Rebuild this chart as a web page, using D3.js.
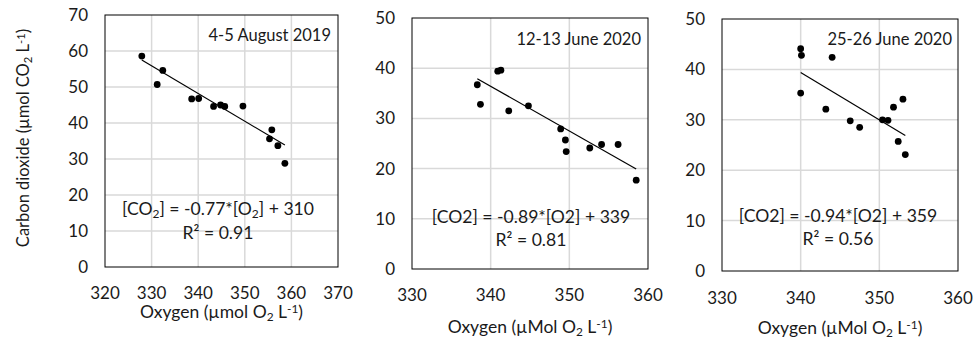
<!DOCTYPE html>
<html>
<head>
<meta charset="utf-8">
<script src="https://cdn.jsdelivr.net/npm/d3@7"></script>
<style>
  body { margin: 0; background: #fff; }
  svg { display: block; font-family: Lato, "Open Sans", sans-serif; }
</style>
</head>
<body>
<svg id="chart" width="976" height="339"></svg>
<script>
// Panel 1: 4-5 August 2019
const o2Aug = [327.9, 331.2, 332.4, 338.6, 340.1, 343.3, 344.8, 345.7, 349.6, 355.8, 355.3, 357.1, 358.6];
const co2Aug = [58.6, 50.7, 54.6, 46.7, 46.8, 44.6, 45.0, 44.6, 44.7, 38.1, 35.6, 33.7, 28.8];

// Panel 2: 12-13 June 2020
const o2Jun12 = [338.3, 338.7, 340.9, 341.3, 342.3, 344.8, 348.9, 349.5, 349.6, 352.6, 354.1, 356.2, 358.5];
const co2Jun12 = [36.7, 32.8, 39.4, 39.6, 31.5, 32.5, 27.9, 25.7, 23.4, 24.1, 24.8, 24.8, 17.7];

// Panel 3: 25-26 June 2020
const o2Jun25 = [340.0, 340.1, 344.0, 340.0, 343.2, 346.3, 347.5, 350.4, 351.1, 351.8, 353.0, 352.4, 353.3];
const co2Jun25 = [44.1, 42.8, 42.4, 35.3, 32.1, 29.8, 28.5, 30.0, 29.9, 32.5, 34.1, 25.7, 23.1];

// fits: slope, intercept, R2
const fitSlopes = [-0.77, -0.89, -0.94];
const fitIntercepts = [310, 339, 359];
const fitR2 = ["0.91", "0.81", "0.56"];

const panelTitles = ["4-5 August 2019", "12-13 June 2020", "25-26 June 2020"];
const xTicks1 = [320, 330, 340, 350, 360, 370];
const xTicks23 = [330, 340, 350, 360];
const yTicks1 = [0, 10, 20, 30, 40, 50, 60, 70];
const yTicks23 = [0, 10, 20, 30, 40, 50];

const svg = d3.select("#chart");
const textColor = "#1a1a1a";
const gridColor = "#d9d9d9";

const panels = [
  { o2: o2Aug, co2: co2Aug, xDom: [320, 370], yDom: [0, 70], xTicks: xTicks1, yTicks: yTicks1,
    box: { x0: 105, x1: 338, y0: 15, y1: 267 }, subEq: true, unit: "µmol",
    eqPos: [218, 215], r2Pos: [218, 239], titlePos: [331, 41], xTitleY: 318, xTickY: 299 },
  { o2: o2Jun12, co2: co2Jun12, xDom: [330, 360], yDom: [0, 50], xTicks: xTicks23, yTicks: yTicks23,
    box: { x0: 412, x1: 648, y0: 18, y1: 269 }, subEq: false, unit: "µMol",
    eqPos: [531, 223], r2Pos: [531, 246], titlePos: [641, 45], xTitleY: 333, xTickY: 301 },
  { o2: o2Jun25, co2: co2Jun25, xDom: [330, 360], yDom: [0, 50], xTicks: xTicks23, yTicks: yTicks23,
    box: { x0: 722, x1: 958, y0: 19, y1: 271 }, subEq: false, unit: "µMol",
    eqPos: [838, 222], r2Pos: [838, 245], titlePos: [952, 45], xTitleY: 334, xTickY: 304 }
];

function addSub(sel, txt, kind) {
  sel.append("tspan")
    .attr("font-size", "0.68em")
    .attr("baseline-shift", kind === "sub" ? "-25%" : "40%")
    .text(txt);
}

panels.forEach((p, i) => {
  const b = p.box;
  const x = d3.scaleLinear().domain(p.xDom).range([b.x0, b.x1]);
  const y = d3.scaleLinear().domain(p.yDom).range([b.y1, b.y0]);
  const g = svg.append("g");

  // gridlines
  g.selectAll(".vgrid").data(p.xTicks.slice(1, -1)).enter().append("line")
    .attr("x1", d => x(d)).attr("x2", d => x(d))
    .attr("y1", b.y0).attr("y2", b.y1)
    .attr("stroke", gridColor).attr("stroke-width", 1.5);
  g.selectAll(".hgrid").data(p.yTicks.slice(1, -1)).enter().append("line")
    .attr("x1", b.x0).attr("x2", b.x1)
    .attr("y1", d => y(d)).attr("y2", d => y(d))
    .attr("stroke", gridColor).attr("stroke-width", 1.5);

  // plot border
  g.append("rect")
    .attr("x", b.x0).attr("y", b.y0)
    .attr("width", b.x1 - b.x0).attr("height", b.y1 - b.y0)
    .attr("fill", "none").attr("stroke", "#000").attr("stroke-width", 1);

  // tick labels
  g.selectAll(".xt").data(p.xTicks).enter().append("text")
    .attr("x", d => x(d)).attr("y", p.xTickY)
    .attr("text-anchor", "middle").attr("font-size", 17).attr("fill", textColor)
    .text(d => d);
  g.selectAll(".yt").data(p.yTicks).enter().append("text")
    .attr("x", b.x0 - 17).attr("y", d => y(d)).attr("dy", "0.35em")
    .attr("text-anchor", "end").attr("font-size", 17).attr("fill", textColor)
    .text(d => d);

  // trend line over data range
  const xr = d3.extent(p.o2);
  g.append("line")
    .attr("x1", x(xr[0])).attr("y1", y(fitSlopes[i] * xr[0] + fitIntercepts[i]))
    .attr("x2", x(xr[1])).attr("y2", y(fitSlopes[i] * xr[1] + fitIntercepts[i]))
    .attr("stroke", "#000").attr("stroke-width", 1.2);

  // points
  g.selectAll(".pt").data(p.o2).enter().append("circle")
    .attr("cx", d => x(d)).attr("cy", (d, j) => y(p.co2[j]))
    .attr("r", 3.4).attr("fill", "#000");

  // panel title
  g.append("text")
    .attr("x", p.titlePos[0]).attr("y", p.titlePos[1])
    .attr("text-anchor", "end").attr("font-size", 16.5).attr("fill", textColor)
    .text(panelTitles[i]);

  // equation
  const eq = g.append("text")
    .attr("x", p.eqPos[0]).attr("y", p.eqPos[1])
    .attr("text-anchor", "middle").attr("font-size", 17.6).attr("fill", textColor);
  const slope = fitSlopes[i].toFixed(2);
  if (p.subEq) {
    eq.append("tspan").text("[CO");
    addSub(eq, "2", "sub");
    eq.append("tspan").text("] = " + slope + "*[O");
    addSub(eq, "2", "sub");
    eq.append("tspan").text("] + " + fitIntercepts[i]);
  } else {
    eq.text("[CO2] = " + slope + "*[O2] + " + fitIntercepts[i]);
  }
  g.append("text")
    .attr("x", p.r2Pos[0]).attr("y", p.r2Pos[1])
    .attr("text-anchor", "middle").attr("font-size", 17.6).attr("fill", textColor)
    .text("R² = " + fitR2[i]);

  // x axis title
  const xt = g.append("text")
    .attr("x", (b.x0 + b.x1) / 2).attr("y", p.xTitleY)
    .attr("text-anchor", "middle").attr("font-size", 17.5).attr("fill", textColor);
  xt.append("tspan").text("Oxygen (" + p.unit + " O");
  addSub(xt, "2", "sub");
  xt.append("tspan").text(" L");
  addSub(xt, "-1", "sup");
  xt.append("tspan").text(")");
});

// y axis title (first panel only)
const yt = svg.append("text")
  .attr("transform", "translate(29,138) rotate(-90)")
  .attr("text-anchor", "middle").attr("font-size", 16.5).attr("fill", textColor);
yt.append("tspan").text("Carbon dioxide (µmol CO");
addSub(yt, "2", "sub");
yt.append("tspan").text(" L");
addSub(yt, "-1", "sup");
yt.append("tspan").text(")");
</script>
</body>
</html>
